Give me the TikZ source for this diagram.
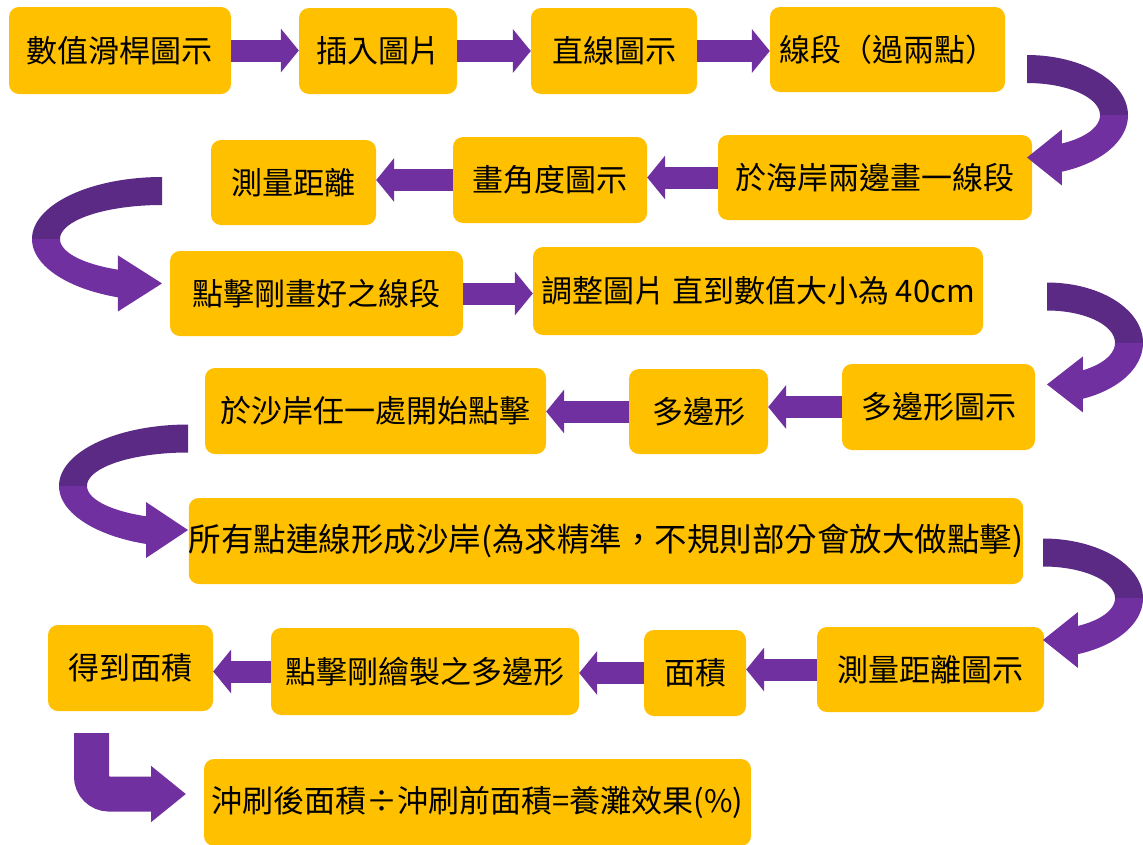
\documentclass[tikz,border=0pt]{standalone}
\usepackage{fontspec}
\setmainfont{Noto Sans CJK TC}
\usetikzlibrary{arrows.meta}
\definecolor{gold}{HTML}{FFC000}
\definecolor{plight}{HTML}{7030A0}
\definecolor{pdark}{HTML}{5A2A85}
\tikzset{
  box/.style={fill=gold, rounded corners=10pt, inner sep=0pt, text=black,
    font=\fontsize{31}{36}\selectfont},
  barrow/.style={draw=plight, line width=22pt, -{Triangle[width=43pt,length=18pt]}},
  bentarrow/.style={draw=plight, line width=35pt, rounded corners=17.5pt,
    -{Triangle[width=54pt,length=35pt]}},
}
% ribbon: #1 cx, #2 cy, #3 rx, #4 ry, #5 tail angle, #6 mid angle, #7 end angle, #8 extended angle
\newcommand\myribbon[8]{%
  \fill[pdark] plot[domain=#5:#6,samples=40] ({#1+(#3+14)*cos(\x)},{#2+(#4+14)*sin(\x)})
     -- plot[domain=#6:#5,samples=40] ({#1+(#3-14)*cos(\x)},{#2+(#4-14)*sin(\x)}) -- cycle;
  \fill[plight] plot[domain=#6:#8,samples=40] ({#1+(#3+14)*cos(\x)},{#2+(#4+14)*sin(\x)})
     -- plot[domain=#8:#6,samples=40] ({#1+(#3-14)*cos(\x)},{#2+(#4-14)*sin(\x)}) -- cycle;
  \fill[plight] ({#1+#3*cos(#7)},{#2+#4*sin(#7)-28}) -- ({#1+#3*cos(#7)},{#2+#4*sin(#7)+28})
     -- (#1,{#2+#4*sin(#7)}) -- cycle;
}
\begin{document}
\begin{tikzpicture}[x=1pt,y=-1pt]
\useasboundingbox[fill=white] (0,0) rectangle (1143,844);
% boxes
\node[box, minimum width=222pt, minimum height=87pt] (b1) at (120,50.5) {數值滑桿圖示};
\node[box, minimum width=158pt, minimum height=86pt] (b2) at (378,51) {插入圖片};
\node[box, minimum width=166pt, minimum height=86pt] (b3) at (614,51) {直線圖示};
\node[box, minimum width=235pt, minimum height=85pt] (b4) at (887.5,49.5) {線段（過兩點）};
\node[box, minimum width=314pt, minimum height=85pt] (b5) at (875,177.5) {於海岸兩邊畫一線段};
\node[box, minimum width=194pt, minimum height=86pt] (b6) at (550,180) {畫角度圖示};
\node[box, minimum width=165pt, minimum height=85pt] (b7) at (293.5,182.5) {測量距離};
\node[box, minimum width=293pt, minimum height=85pt] (b8) at (316.5,293.5) {點擊剛畫好之線段};
\node[box, minimum width=450pt, minimum height=88pt] (b9) at (758,291) {調整圖片 直到數值大小為 40cm};
\node[box, minimum width=193pt, minimum height=86pt] (b10) at (938.5,407) {多邊形圖示};
\node[box, minimum width=139pt, minimum height=85pt] (b11) at (698.5,411.5) {多邊形};
\node[box, minimum width=341pt, minimum height=86pt] (b12) at (375.5,411) {於沙岸任一處開始點擊};
\node[box, minimum width=830pt, minimum height=86pt, font=\fontsize{32.5}{36}\selectfont] (b13) at (606,541) {所有點連線形成沙岸(為求精準，不規則部分會放大做點擊)};
\node[box, minimum width=227pt, minimum height=85pt] (b14) at (930.5,669.5) {測量距離圖示};
\node[box, minimum width=102pt, minimum height=86pt] (b15) at (695,673) {面積};
\node[box, minimum width=308pt, minimum height=87pt] (b16) at (425,671.5) {點擊剛繪製之多邊形};
\node[box, minimum width=165pt, minimum height=86pt] (b17) at (130.5,668) {得到面積};
\node[box, minimum width=547pt, minimum height=87pt] (b18) at (477.5,802.5) {沖刷後面積÷沖刷前面積=養灘效果(\%)};
% straight arrows
\draw[barrow] (b1.east) -- (b1.east -| b2.west);
\draw[barrow] (b2.east) -- (b2.east -| b3.west);
\draw[barrow] (b3.east) -- (b3.east -| b4.west);
\draw[barrow] (b5.west) -- (b5.west -| b6.east);
\draw[barrow] (b6.west) -- (b6.west -| b7.east);
\draw[barrow] (b8.east) -- (b8.east -| b9.west);
\draw[barrow] (b10.west) -- (b10.west -| b11.east);
\draw[barrow] (b11.west) -- (b11.west -| b12.east);
\draw[barrow] (b14.west) -- (b14.west -| b15.east);
\draw[barrow] (b15.west) -- (b15.west -| b16.east);
\draw[barrow] (b16.west) -- (b16.west -| b17.east);
% curved ribbon arrows
\myribbon{1027}{115.2}{87}{46.2}{-90}{0}{66.3}{74.3}
\myribbon{162}{239}{116}{48}{270}{180}{112.3}{104.3}
\myribbon{1047}{342.8}{82}{46.3}{-90}{0}{64}{72}
\myribbon{188}{485.9}{115}{47.4}{270}{180}{111.4}{103.4}
\myribbon{1043}{598.2}{86}{45.7}{-90}{0}{66}{74}
% bent arrow
\coordinate (bs) at (91.5,733);
\coordinate (be) at (186,794);
\draw[bentarrow] (bs) |- (be);
\end{tikzpicture}
\end{document}
